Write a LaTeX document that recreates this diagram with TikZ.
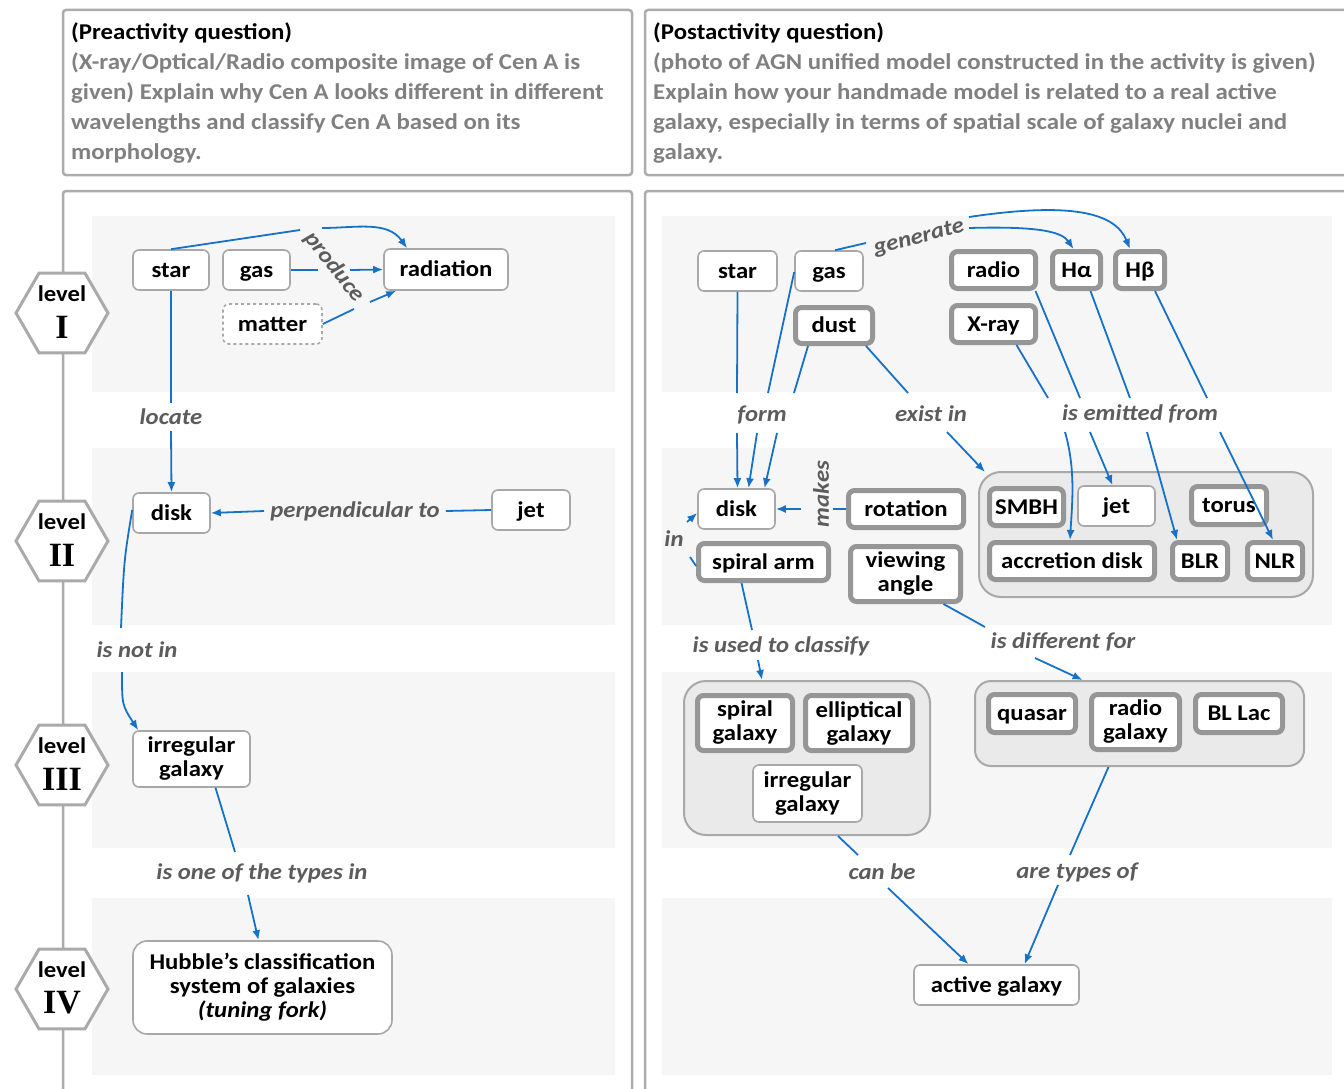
\documentclass[tikz,border=0pt]{standalone}
\usepackage{fontspec}
\setmainfont{Carlito}[FakeStretch=1.1]
\newfontfamily\numeralfont{Liberation Serif}
\usetikzlibrary{arrows.meta,shapes.geometric}

\definecolor{linkblue}{RGB}{22,114,200}
\definecolor{labelgray}{RGB}{92,92,92}
\definecolor{boxgray}{RGB}{168,168,168}
\definecolor{thickgray}{RGB}{150,150,150}
\definecolor{bandgray}{RGB}{246,246,246}
\definecolor{groupfill}{RGB}{234,234,234}
\definecolor{bodygray}{RGB}{128,128,128}
\definecolor{panelgray}{RGB}{172,172,172}
\definecolor{hexgray}{RGB}{170,170,170}

\newcommand\cmapnodefont{\fontsize{22.5}{24}\selectfont\bfseries}
\newcommand\cmaplinkfont{\fontsize{22.5}{24}\selectfont\bfseries\itshape}
\newcommand\cmapheadfont{\fontsize{22.6}{30}\selectfont\bfseries}

\begin{document}
\begin{tikzpicture}[x=1pt,y=-1pt,
  concept/.style={draw=boxgray,line width=1.6pt,fill=white,rounded corners=6pt,
    font=\cmapnodefont,align=center,inner sep=0pt,text=black},
  heavy/.style={concept,draw=thickgray,line width=5pt},
  oneline/.style={text height=15pt,text depth=1pt},
  groupbox/.style={draw=boxgray,line width=2pt,fill=groupfill,rounded corners=22pt,inner sep=0pt},
  linkphrase/.style={font=\cmaplinkfont,text=labelgray,inner sep=6pt},
  link/.style={draw=linkblue,line width=1.8pt},
  linkarrow/.style={link,-{Latex[length=10pt,width=8pt]}},
  band/.style={fill=bandgray,draw=none},
  panel/.style={draw=panelgray,line width=2.5pt,rounded corners=3pt},
  levelhex/.style={regular polygon,regular polygon sides=6,minimum size=92pt,
    draw=hexgray,line width=3pt,fill=white,inner sep=0pt},
  leveltext/.style={font=\fontsize{22.5}{24}\selectfont\bfseries,inner sep=0pt},
  levelnum/.style={font=\numeralfont\fontsize{34}{36}\selectfont\bfseries,inner sep=0pt},
]
\useasboundingbox (0,0) rectangle (1344,1089);
\fill[white] (0,0) rectangle (1344,1089);

% ---------- question panels ----------
\draw[panel] (63,10) rectangle (632,175);
\draw[panel] (645,10) rectangle (1352,175);
\node[anchor=north west,align=left,inner sep=0pt,font=\cmapheadfont] (preq) at (71,23)
  {(Preactivity question)\\
   \textcolor{bodygray}{(X-ray/Optical/Radio composite image of Cen A is}\\
   \textcolor{bodygray}{given) Explain why Cen A looks different in different}\\
   \textcolor{bodygray}{wavelengths and classify Cen A based on its}\\
   \textcolor{bodygray}{morphology.}};
\node[anchor=north west,align=left,inner sep=0pt,font=\cmapheadfont] (postq) at (653,23)
  {(Postactivity question)\\
   \textcolor{bodygray}{(photo of AGN unified model constructed in the activity is given)}\\
   \textcolor{bodygray}{Explain how your handmade model is related to a real active}\\
   \textcolor{bodygray}{galaxy, especially in terms of spatial scale of galaxy nuclei and}\\
   \textcolor{bodygray}{galaxy.}};

% ---------- level bands ----------
\foreach \ya/\yb in {216/392,448/625,672/848,898/1075}{
  \fill[band] (92,\ya) rectangle (615,\yb);
  \fill[band] (662,\ya) rectangle (1332,\yb);
}

% ---------- map panels ----------
\draw[panel] (63,1100) -- (63,191) -- (632,191) -- (632,1100);
\draw[panel] (645,1100) -- (645,191) -- (1352,191);

% ---------- level markers ----------
\foreach \name/\y/\num in {lvA/313/I,lvB/541/II,lvC/765/III,lvD/989/IV}{
  \node[levelhex] (\name) at (62,\y) {};
  \node[leveltext] (\name-t) at ([yshift=19pt]\name.center) {level};
  \node[levelnum] (\name-n) at ([yshift=-14pt]\name.center) {\num};
}

% ---------- pre-activity map ----------
\node[concept,oneline,minimum width=76pt,minimum height=40pt] (star1) at (171,270) {star};
\node[concept,oneline,minimum width=67pt,minimum height=40pt] (gas1) at (256.5,270) {gas};
\node[concept,oneline,minimum width=124pt,minimum height=41pt] (rad1) at (446,269.5) {radiation};
\node[concept,oneline,dashed,minimum width=99pt,minimum height=40pt] (matter1) at (272.5,324) {matter};
\node[concept,oneline,minimum width=77pt,minimum height=40pt] (disk1) at (171.5,513) {disk};
\node[concept,oneline,minimum width=78pt,minimum height=40pt] (jet1) at (531,510) {jet};
\node[concept,minimum width=117pt,minimum height=56pt] (irreg1) at (191.5,759) {irregular\\galaxy};
\node[concept,minimum width=259pt,minimum height=93pt,rounded corners=14pt] (hubble) at (262.5,987.5)
  {Hubble’s classification\\system of galaxies\\\textit{(tuning fork)}};

\node[linkphrase,rotate=-52] (produce) at (334,267) {produce};
\node[linkphrase] (locate) at (171,417) {locate};
\node[linkphrase] (perp) at (355,511) {perpendicular to};
\node[linkphrase] (notin) at (137,650) {is not in};
\node[linkphrase] (typesin) at (262,873) {is one of the types in};

\draw[link] (star1.north) -- ([shift={(-34,-37)}]produce.center);
\draw[linkarrow] ([shift={(-12,-39)}]produce.center) to[out=0,in=125] ([xshift=-39pt]rad1.north);
\draw[link] (gas1.east) -- ([shift={(-16,3)}]produce.center);
\draw[linkarrow] ([shift={(16,3)}]produce.center) -- (rad1.west);
\draw[link] (matter1.east) -- ([shift={(20,42)}]produce.center);
\draw[linkarrow] ([shift={(36,35)}]produce.center) -- ([xshift=13pt]rad1.south west);

\draw[link] (star1.south) -- (locate.north);
\draw[linkarrow] (locate.south) -- (disk1.north);
\draw[link] (jet1.west) -- (perp.east);
\draw[linkarrow] (perp.west) -- (disk1.east);
\draw[link] ([yshift=3pt]disk1.west) .. controls (124,560) .. ([shift={(-16,-22)}]notin.center);
\draw[linkarrow] ([shift={(-15,22)}]notin.center) .. controls (122,705) .. ([xshift=6pt]irreg1.north west);
\draw[link] ([xshift=24pt]irreg1.south) -- ([shift={(-27,-21)}]typesin.center);
\draw[linkarrow] ([shift={(-14,22)}]typesin.center) -- ([xshift=-4pt]hubble.north);

% ---------- post-activity map ----------
\node[groupbox,minimum width=334pt,minimum height=125pt] (agn) at (1146,534.5) {};
\node[groupbox,minimum width=246pt,minimum height=154pt] (galgrp) at (807,758) {};
\node[groupbox,minimum width=329pt,minimum height=85pt,rounded corners=16pt] (agntype) at (1139.5,723.5) {};

\node[concept,oneline,minimum width=79pt,minimum height=40pt] (star2) at (737.5,271) {star};
\node[concept,oneline,minimum width=68pt,minimum height=40pt] (gas2) at (829,271) {gas};
\node[heavy,oneline,minimum width=77pt,minimum height=36pt] (dust) at (834,325.5) {dust};
\node[heavy,oneline,minimum width=84pt,minimum height=37pt] (radio) at (993.5,270) {radio};
\node[heavy,oneline,minimum width=48pt,minimum height=37pt] (ha) at (1076.5,270) {Hα};
\node[heavy,oneline,minimum width=49pt,minimum height=37pt] (hb) at (1140,270) {Hβ};
\node[heavy,oneline,minimum width=84pt,minimum height=37pt] (xray) at (993.5,324) {X-ray};
\node[concept,oneline,minimum width=77pt,minimum height=40pt] (disk2) at (736.5,509) {disk};
\node[heavy,oneline,minimum width=115pt,minimum height=37pt] (rot) at (906,509) {rotation};
\node[heavy,oneline,minimum width=130pt,minimum height=37pt] (spiral) at (763.5,562) {spiral arm};
\node[heavy,minimum width=110pt,minimum height=55pt] (view) at (905.5,574) {viewing\\angle};
\node[heavy,oneline,minimum width=74pt,minimum height=37pt] (smbh) at (1026.5,507) {SMBH};
\node[concept,oneline,minimum width=77pt,minimum height=40pt] (jet2) at (1116.5,506) {jet};
\node[heavy,oneline,minimum width=75pt,minimum height=38pt] (torus) at (1229,505.5) {torus};
\node[heavy,oneline,minimum width=165pt,minimum height=37pt] (accr) at (1072,561) {accretion disk};
\node[heavy,oneline,minimum width=55pt,minimum height=37pt] (blr) at (1200,561) {BLR};
\node[heavy,oneline,minimum width=55pt,minimum height=37pt] (nlr) at (1275,561) {NLR};
\node[heavy,minimum width=95pt,minimum height=55pt] (spiralg) at (745,723) {spiral\\galaxy};
\node[heavy,minimum width=107pt,minimum height=55pt] (ellipg) at (859,723) {elliptical\\galaxy};
\node[concept,minimum width=109pt,minimum height=57pt] (irreg2) at (807.5,793.5) {irregular\\galaxy};
\node[heavy,oneline,minimum width=87pt,minimum height=38pt] (quasar) at (1032,713.5) {quasar};
\node[heavy,minimum width=88pt,minimum height=55pt] (radiog) at (1135.5,722) {radio\\galaxy};
\node[heavy,oneline,minimum width=87pt,minimum height=38pt] (bllac) at (1239,713.5) {BL Lac};
\node[concept,oneline,minimum width=165pt,minimum height=40pt] (active) at (996.5,985) {active galaxy};

\node[linkphrase,rotate=14] (generate) at (919,238) {generate};
\node[linkphrase] (form) at (762,415) {form};
\node[linkphrase] (existin) at (931,414) {exist in};
\node[linkphrase] (emit) at (1140,414) {is emitted from};
\node[linkphrase,rotate=90] (makes) at (821,494) {makes};
\node[linkphrase] (in) at (674,539) {in};
\node[linkphrase] (classify) at (781,646) {is used to classify};
\node[linkphrase] (differ) at (1063,642) {is different for};
\node[linkphrase] (canbe) at (882,872) {can be};
\node[linkphrase] (aretypes) at (1077,872) {are types of};

% gas generates the lines
\draw[link] ([xshift=6pt]gas2.north) -- ([shift={(-53,5)}]generate.center);
\draw[linkarrow] ([shift={(50,-10)}]generate.center) .. controls (1040,226) and (1062,232) .. ([xshift=-3pt]ha.north);
\draw[linkarrow] ([shift={(50,-21)}]generate.center) .. controls (1070,202) and (1115,212) .. ([xshift=-10pt]hb.north);

% what forms the disk
\draw[link] (star2.south) -- ([shift={(-25,-22)}]form.center);
\draw[link] ([yshift=-1pt]gas2.west) -- ([shift={(6,-22)}]form.center);
\draw[link] ([xshift=-26pt]dust.south) -- ([shift={(32,-22)}]form.center);
\draw[linkarrow] ([shift={(-25,18)}]form.center) -- ([xshift=1pt]disk2.north);
\draw[linkarrow] ([shift={(-5,18)}]form.center) -- ([xshift=12pt]disk2.north);
\draw[linkarrow] ([shift={(15,18)}]form.center) -- ([xshift=28pt]disk2.north);

% dust exists in the nucleus
\draw[link] ([xshift=32pt]dust.south) -- ([shift={(-23,-21)}]existin.center);
\draw[linkarrow] ([shift={(16,18)}]existin.center) -- ([shift={(7,1)}]agn.north west);

% emission regions
\draw[link] ([xshift=23pt]xray.south) -- ([shift={(-92,-16)}]emit.center);
\draw[link] ([xshift=42pt]radio.south) -- ([shift={(-60,-16)}]emit.center);
\draw[link] ([xshift=14pt]ha.south) -- ([shift={(-10,-16)}]emit.center);
\draw[link] ([xshift=15pt]hb.south) -- ([shift={(67,-16)}]emit.center);
\draw[linkarrow] ([shift={(-75,18)}]emit.center) .. controls (1076,470) and (1072,505) .. ([xshift=-2pt]accr.north);
\draw[linkarrow] ([shift={(-50,18)}]emit.center) -- ([xshift=-4pt]jet2.north);
\draw[linkarrow] ([shift={(7,18)}]emit.center) -- ([xshift=7pt]blr.north west);
\draw[linkarrow] ([shift={(80,18)}]emit.center) -- ([xshift=-2pt]nlr.north);

% rotation and spiral arm
\draw[link] (rot.west) -- ([shift={(12,15)}]makes.center);
\draw[linkarrow] ([shift={(-20,15)}]makes.center) -- (disk2.east);
\draw[link] ([yshift=-4pt]spiral.west) -- ([shift={(16,18)}]in.center);
\draw[linkarrow] ([shift={(13,-17)}]in.center) -- ([yshift=-4pt]disk2.west);

% classification
\draw[link] ([xshift=-22pt]spiral.south) -- ([shift={(-29,-16)}]classify.center);
\draw[linkarrow] ([shift={(-23,14)}]classify.center) -- ([xshift=-45pt]galgrp.north);
\draw[link] ([xshift=38pt]view.south) -- ([shift={(-78,-15)}]differ.center);
\draw[linkarrow] ([shift={(-28,16)}]differ.center) -- ([xshift=-57pt]agntype.north);
\draw[link] ([xshift=31pt]galgrp.south) -- ([shift={(-24,-17)}]canbe.center);
\draw[linkarrow] ([shift={(6,16)}]canbe.center) -- ([xshift=-28pt]active.north);
\draw[link] ([xshift=-31pt]agntype.south) -- ([shift={(-7,-17)}]aretypes.center);
\draw[linkarrow] ([shift={(-19,13)}]aretypes.center) -- ([xshift=28pt]active.north);
\end{tikzpicture}
\end{document}
